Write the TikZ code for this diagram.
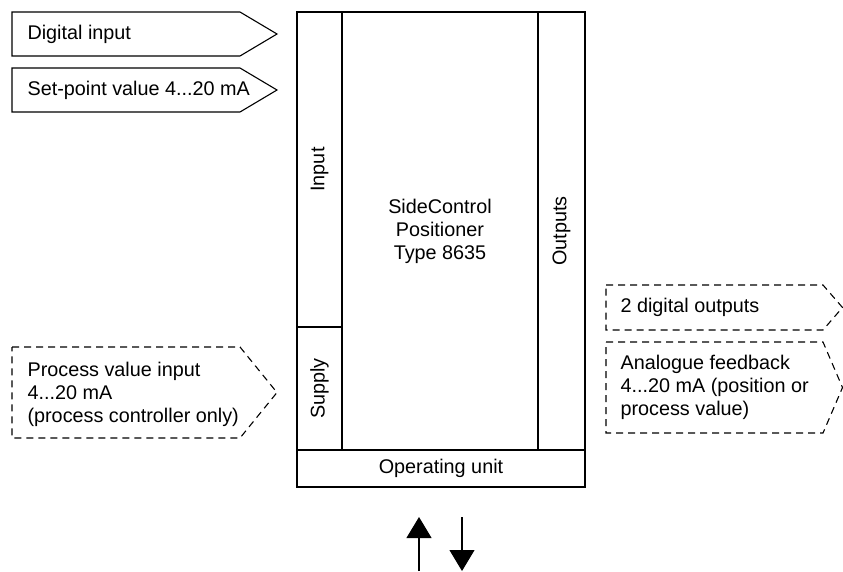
\documentclass[tikz,border=0pt]{standalone}
\usepackage{fontspec}
\setmainfont{Liberation Sans}
\usetikzlibrary{arrows.meta}

\begin{document}
\begin{tikzpicture}[x=1pt,y=-1pt,line width=1.1pt,font=\fontsize{19.8}{23}\selectfont,
  part/.style={draw,inner sep=0pt,outer sep=0pt},
  body/.style={inner sep=0pt,outer sep=0pt,anchor=north west},
  tag/.style={anchor=west,align=left,inner sep=0pt},
  dashline/.style={dash pattern=on 7pt off 5pt}]
\begin{scope}
\useasboundingbox (0,0) rectangle (843,571);

\node [part,minimum width=196pt,minimum height=438pt,align=center] (node3) at (440,231) {SideControl\\Positioner\\Type 8635};
\node [part,rotate=90,minimum width=315pt,minimum height=45pt] (node2) at ([xshift=-22.5pt,yshift=61.5pt]node3.west) {Input};
\node [part,rotate=90,minimum width=123pt,minimum height=45pt] (node2-1) at ([xshift=-22.5pt,yshift=-157.5pt]node3.west) {Supply};
\node [part,rotate=90,minimum width=438pt,minimum height=47pt] (node4) at ([xshift=23.5pt]node3.east) {Outputs};
\node [part,minimum width=288pt,minimum height=37pt] (node5) at ([xshift=1pt,yshift=-18.5pt]node3.south) {Operating unit};

\node [body,minimum width=228pt,minimum height=44pt] (node1) at (12,12) {};
\draw (node1.north west)--(node1.north east)--([xshift=37pt]node1.east)--(node1.south east)--(node1.south west)--cycle;
\node [tag] (node1-1) at ([xshift=15pt]node1.west) {Digital input};

\node [body,minimum width=228pt,minimum height=44pt] (node6) at (12,68) {};
\draw (node6.north west)--(node6.north east)--([xshift=37pt]node6.east)--(node6.south east)--(node6.south west)--cycle;
\node [tag] (node6-1) at ([xshift=15pt]node6.west) {Set-point value 4...20 mA};

\node [body,minimum width=228pt,minimum height=91pt] (node7) at (12,347) {};
\draw[dashline] (node7.north west)--(node7.north east)--([xshift=37pt]node7.east)--(node7.south east)--(node7.south west)--cycle;
\node [tag] (node7-1) at ([xshift=15pt,yshift=-2pt]node7.west) {Process value input\\4...20 mA\\(process controller only)};

\node [body,minimum width=217pt,minimum height=45pt] (node8) at (606,285) {};
\draw[dashline] (node8.north west)--(node8.north east)--([xshift=19.5pt]node8.east)--(node8.south east)--(node8.south west)--cycle;
\node [tag] (node8-1) at ([xshift=14pt]node8.west) {2 digital outputs};

\node [body,minimum width=217pt,minimum height=91pt] (node9) at (606,342) {};
\draw[dashline] (node9.north west)--(node9.north east)--([xshift=19.5pt]node9.east)--(node9.south east)--(node9.south west)--cycle;
\node [tag] (node9-1) at ([xshift=14pt]node9.west) {Analogue feedback\\4...20 mA (position or\\process value)};

\coordinate (node10) at ([xshift=-22pt,yshift=-30pt]node5.south);
\coordinate (node10-1) at ([yshift=-54pt]node10);
\draw[-{Triangle[length=21pt,width=25pt]}] (node10-1)--(node10);
\coordinate (node11) at ([xshift=21pt,yshift=-30pt]node5.south);
\coordinate (node11-1) at ([yshift=-54pt]node11);
\draw[-{Triangle[length=21pt,width=25pt]}] (node11)--(node11-1);

\end{scope}
\end{tikzpicture}
\end{document}
